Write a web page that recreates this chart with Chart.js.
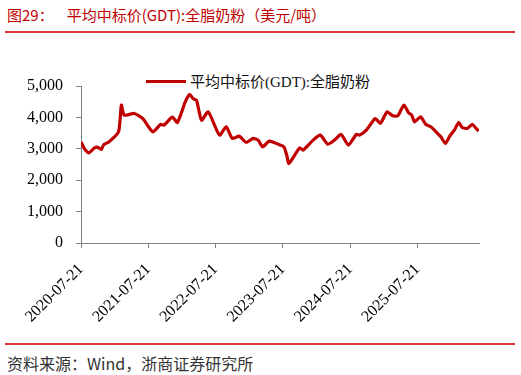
<!DOCTYPE html>
<html>
<head>
<meta charset="utf-8">
<script src="https://cdn.jsdelivr.net/npm/chart.js@4/dist/chart.umd.min.js"></script>
<style>
  body { margin: 0; width: 521px; height: 375px; background: #fff; position: relative; overflow: hidden; }
  #titulo { position: absolute; left: 7px; top: 4px; font: 15px "Noto Sans CJK SC", sans-serif; color: #c00000; white-space: nowrap; }
  #titulo .num { margin-right: 13px; }
  .linha { position: absolute; left: 5px; width: 510px; height: 1.5px; background: #d9383a; }
  #legenda { position: absolute; left: 146px; top: 70px; font: 15px "Liberation Serif", "Noto Sans CJK SC", serif; color: #111; white-space: nowrap; }
  #legenda span.amostra { display: inline-block; width: 40px; height: 3px; background: #c00000; vertical-align: middle; margin-right: 4px; position: relative; top: -2px; }
  #fonte { position: absolute; left: 7px; top: 355px; font: 16px/16px "Noto Sans CJK SC", sans-serif; color: #333; white-space: nowrap; }
  canvas { position: absolute; left: 0; top: 60px; }
</style>
</head>
<body>
<div id="titulo"><span class="num">图29：</span>平均中标价(GDT):全脂奶粉（美元/吨）</div>
<div class="linha" style="top:31px"></div>
<div id="legenda"><span class="amostra"></span>平均中标价(GDT):全脂奶粉</div>
<canvas id="graficoGDT" width="521" height="280"></canvas>
<div class="linha" style="top:343px"></div>
<div id="fonte">资料来源：Wind，浙商证券研究所</div>

<script>
  // meses desde 2020-07-21
  const mesesDesdeInicio = [0, 0.6, 1.4, 2.4, 3.0, 3.6, 4.1, 5.0, 6.7, 7.2, 7.7, 9.5, 11, 12.8, 14.2, 14.8,
    16.3, 17.2, 18.6, 19.4, 20, 20.6, 21.5, 22.7, 24.7, 25.9, 27, 28.2, 29.5, 30.7, 31.6, 32.4, 33.6,
    35.4, 36.2, 36.7, 37.1, 39, 39.6, 41.4, 42.7, 44, 45.2, 46.4, 47.7, 49.1, 49.7, 50.9, 52.5, 53.4,
    54.6, 55.6, 56.5, 57.6, 58.4, 59, 59.5, 60.6, 61.5, 62.4, 63.6, 64.2, 65, 65.7, 66.6, 67.4, 68,
    68.9, 69.8, 70.9];
  const precoWMP = [3220, 3010, 2870, 3030, 3050, 2980, 3140, 3220, 3540, 4390, 4070, 4125, 3966, 3540, 3775, 3753,
    4007, 3840, 4494, 4729, 4600, 4548, 3911, 4176, 3435, 3699, 3330, 3403, 3202, 3330, 3276, 3063, 3244,
    3130, 3063, 2800, 2535, 3031, 2958, 3276, 3435, 3149, 3276, 3457, 3117, 3457, 3435, 3594, 3966, 3807,
    4176, 4049, 4049, 4389, 4157, 4070, 3858, 4017, 3775, 3699, 3489, 3381, 3171, 3381, 3594, 3838, 3680,
    3648, 3775, 3562];
  const rotulosAno = ["2020-07-21", "2021-07-21", "2022-07-21", "2023-07-21", "2024-07-21", "2025-07-21"];

  const pontos = mesesDesdeInicio.map((m, i) => ({ x: m, y: precoWMP[i] }));
  const cinza = "#808080";
  const fonteEixo = { family: "'Liberation Serif', 'Times New Roman', serif", size: 16 };

  const ctx = document.getElementById("graficoGDT").getContext("2d");
  new Chart(ctx, {
    type: "line",
    data: {
      datasets: [{
        label: "平均中标价(GDT):全脂奶粉",
        data: pontos,
        borderColor: "#c00000",
        borderWidth: 3.2,
        pointRadius: 0,
        tension: 0.2,
        borderJoinStyle: "round",
        fill: false
      }]
    },
    options: {
      responsive: false,
      animation: false,
      devicePixelRatio: 1,
      layout: { padding: { left: 0, right: 42, top: 26, bottom: 0 } },
      plugins: { legend: { display: false }, tooltip: { enabled: false } },
      scales: {
        x: {
          type: "linear",
          min: 0,
          max: 71,
          afterBuildTicks: (scale) => {
            scale.ticks = rotulosAno.map((_, i) => ({ value: i * 12 }));
          },
          afterFit: (scale) => { scale.height = 97; },
          grid: { display: true, drawOnChartArea: false, drawTicks: true, tickLength: 5, color: cinza },
          border: { display: true, color: cinza, width: 1 },
          ticks: {
            autoSkip: false,
            maxRotation: 45,
            minRotation: 45,
            padding: 12,
            color: "#000",
            font: fonteEixo,
            callback: (v) => rotulosAno[Math.round(v / 12)]
          }
        },
        y: {
          min: 0,
          max: 5000,
          afterFit: (scale) => { scale.width = 81; },
          grid: { display: true, drawOnChartArea: false, drawTicks: true, tickLength: 5, color: cinza },
          border: { display: true, color: cinza, width: 1 },
          ticks: {
            stepSize: 1000,
            padding: 13,
            color: "#000",
            font: fonteEixo,
            callback: (v) => v.toLocaleString("en-US")
          }
        }
      }
    }
  });
</script>
</body>
</html>
